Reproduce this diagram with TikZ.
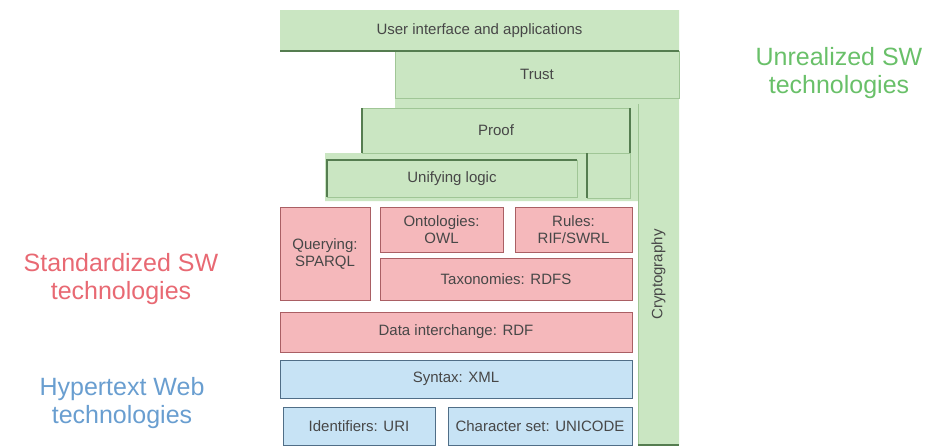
\documentclass[tikz,border=0pt]{standalone}
\usepackage{fontspec}
\setmainfont{Liberation Sans}
\definecolor{gfill}{RGB}{202,230,194}
\definecolor{gline}{RGB}{160,198,150}
\definecolor{gdark}{RGB}{85,125,80}
\definecolor{pfill}{RGB}{245,184,187}
\definecolor{pline}{RGB}{170,95,100}
\definecolor{bfill}{RGB}{199,227,245}
\definecolor{bline}{RGB}{80,110,135}
\definecolor{redtxt}{RGB}{232,105,115}
\definecolor{bluetxt}{RGB}{105,158,208}
\definecolor{greentxt}{RGB}{105,192,105}
\begin{document}
\begin{tikzpicture}[x=1pt,y=-1pt,
  layer/.style={anchor=north west, inner sep=0pt, outer sep=0pt, align=center,
    font=\fontsize{15}{17}\selectfont, text=black!72},
  gbox/.style={layer, fill=gfill, draw=gline, line width=0.8pt},
  pbox/.style={layer, fill=pfill, draw=pline, line width=0.9pt},
  bbox/.style={layer, fill=bfill, draw=bline, line width=0.9pt},
  accent/.style={draw=gdark, line width=1.2pt},
  side/.style={align=center, font=\fontsize{25}{28}\selectfont}]
\useasboundingbox (0,0) rectangle (928,447);

% light green backdrop of the upper stack
\fill[gfill] (280,10) -- (679,10) -- (679,445) -- (638,445) -- (638,201)
  -- (325,201) -- (325,153) -- (362,153) -- (362,108) -- (395,108)
  -- (395,51) -- (280,51) -- cycle;

% unrealized layers
\node[layer, fill=gfill, minimum width=399pt, minimum height=41pt] (ui) at (280,10) {User interface and applications};
\node[gbox, minimum width=284pt, minimum height=47pt] (trust) at (395,51) {\raisebox{-5pt}{Trust}};
\node[gbox, minimum width=268pt, minimum height=45pt] (proof) at (362,108) {Proof};
\node[gbox, minimum width=43pt, minimum height=45pt] (proofext) at (587,153) {};
\node[gbox, minimum width=250pt, minimum height=37pt] (unify) at (327,160) {Unifying logic};
\node[layer, fill=gfill, minimum width=41pt, minimum height=341pt] (crypto) at (638,104) {};
\node[rotate=90, font=\fontsize{15}{17}\selectfont, text=black!72] (cryptotext) at (crypto.center) {Cryptography};

\draw[gline, line width=0.8pt] (crypto.north west) -- (crypto.south west);
\draw[accent] (ui.south west) -- (ui.south east);
\draw[accent] (proof.north west) -- (proof.south west);
\draw[accent] (proof.north east) -- (proof.south east);
\draw[accent] (unify.south west) -- (unify.north west) -- (unify.north east);
\draw[accent] (proofext.north west) -- (proofext.south west);
\draw[accent] (crypto.south west) -- (crypto.south east);

% standardized layers
\node[pbox, minimum width=90pt, minimum height=93pt] (query) at (280,207) {Querying:\\SPARQL};
\node[pbox, minimum width=123pt, minimum height=45pt] (onto) at (380,207) {Ontologies:\\OWL};
\node[pbox, minimum width=117pt, minimum height=45pt] (rules) at (515,207) {Rules:\\RIF/SWRL};
\node[pbox, minimum width=252pt, minimum height=42pt] (taxo) at (380,258) {Taxonomies: RDFS};
\node[pbox, minimum width=352pt, minimum height=40pt] (rdf) at (280,312) {Data interchange: RDF};

% hypertext web layers
\node[bbox, minimum width=352pt, minimum height=38pt] (xml) at (280,360) {Syntax: XML};
\node[bbox, minimum width=152pt, minimum height=38pt] (uri) at (283,407) {Identifiers: URI};
\node[bbox, minimum width=184pt, minimum height=38pt] (unicode) at (448,407) {Character set: UNICODE};

% legend labels
\node[side, text=redtxt] (stdlabel) at (121,279) {Standardized SW\\technologies};
\node[side, text=bluetxt] (weblabel) at (122,403) {Hypertext Web\\technologies};
\node[side, text=greentxt] (unrlabel) at (839,73) {Unrealized SW\\technologies};
\end{tikzpicture}
\end{document}
